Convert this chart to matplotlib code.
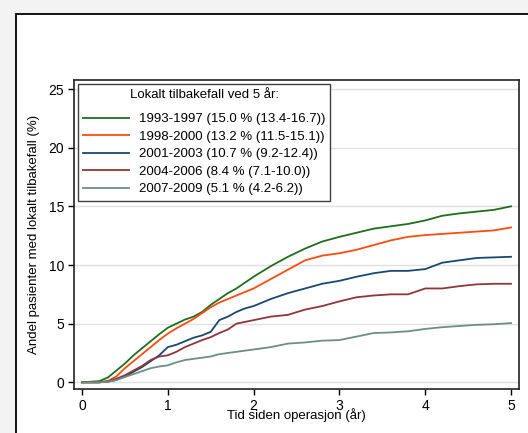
import numpy as np
import matplotlib.pyplot as plt
from matplotlib.patches import Rectangle

# -------------------------------------------
# Data (cumulative local recurrence, %)

tid = [0, 0.2, 0.3, 0.4, 0.5, 0.6, 0.7, 0.8, 0.9, 1.0, 1.1, 1.2, 1.3, 1.4, 1.5, 1.6, 1.7, 1.8,
       1.9, 2.0, 2.2, 2.4, 2.6, 2.8, 3.0, 3.2, 3.4, 3.6, 3.8, 4.0, 4.2, 4.4, 4.6, 4.8, 5.0]

p_1993_1997 = [0, 0.1, 0.4, 1.0, 1.6, 2.3, 2.9, 3.5, 4.1, 4.65, 5.0, 5.35, 5.6, 6.0, 6.6, 7.1, 7.6, 8.0,
               8.5, 9.0, 9.9, 10.7, 11.4, 12.0, 12.4, 12.75, 13.1, 13.3, 13.5, 13.8, 14.2, 14.4, 14.55, 14.7, 15.0]
p_1998_2000 = [0, 0, 0.1, 0.5, 1.2, 1.8, 2.4, 3.0, 3.6, 4.15, 4.6, 5.0, 5.4, 5.9, 6.4, 6.8, 7.1, 7.4,
               7.7, 8.0, 8.8, 9.6, 10.4, 10.8, 11.0, 11.3, 11.7, 12.1, 12.4, 12.55, 12.65, 12.75, 12.85, 12.95, 13.2]
p_2001_2003 = [0, 0, 0.05, 0.2, 0.5, 0.9, 1.3, 1.8, 2.3, 3.0, 3.2, 3.5, 3.8, 4.0, 4.3, 5.3, 5.6, 6.0,
               6.3, 6.5, 7.1, 7.6, 8.0, 8.4, 8.65, 9.0, 9.3, 9.5, 9.5, 9.65, 10.2, 10.4, 10.6, 10.65, 10.7]
p_2004_2006 = [0, 0, 0.1, 0.3, 0.6, 1.0, 1.4, 1.9, 2.2, 2.3, 2.6, 3.0, 3.3, 3.6, 3.85, 4.2, 4.5, 5.0,
               5.15, 5.3, 5.6, 5.75, 6.2, 6.5, 6.9, 7.25, 7.4, 7.5, 7.5, 8.0, 8.0, 8.2, 8.35, 8.4, 8.4]
p_2007_2009 = [0, 0, 0.05, 0.2, 0.45, 0.7, 0.95, 1.2, 1.35, 1.45, 1.7, 1.9, 2.0, 2.1, 2.2, 2.4, 2.5, 2.6,
               2.7, 2.8, 3.0, 3.3, 3.4, 3.55, 3.6, 3.9, 4.2, 4.25, 4.35, 4.55, 4.7, 4.8, 4.9, 4.95, 5.05]

etiketter = ["1993-1997 (15.0 % (13.4-16.7))",
             "1998-2000 (13.2 % (11.5-15.1))",
             "2001-2003 (10.7 % (9.2-12.4))",
             "2004-2006 (8.4 % (7.1-10.0))",
             "2007-2009 (5.1 % (4.2-6.2))"]
serier = [p_1993_1997, p_1998_2000, p_2001_2003, p_2004_2006, p_2007_2009]
farger = ["#1e6e1e", "#ff4a10", "#1a476f", "#90353b", "#6e8e84"]

# -------------------------------------------

plt.rcParams['font.family'] = ['Liberation Sans', 'DejaVu Sans']

fig = plt.figure(figsize=(5.28, 4.33), dpi=100, facecolor="#f2f3f2")

# white panel with black frame (behind the axes)
panel = Rectangle((16 / 528, -0.1), 1.2, 1 - 14 / 433 + 0.1, transform=fig.transFigure,
                  facecolor="white", edgecolor="black", linewidth=1.3, zorder=-10)
fig.patches.append(panel)

ax = fig.add_axes([74 / 528, 1 - 389 / 433, (519 - 74) / 528, (389 - 80) / 433])
ax.set_facecolor("white")

for verdier, farge, etikett in zip(serier, farger, etiketter):
    ax.plot(tid, verdier, color=farge, linewidth=1.3, label=etikett)

ax.set_xlim(-0.093, 5.093)
ax.set_ylim(-0.57, 25.77)
ax.set_xticks([0, 1, 2, 3, 4, 5])
ax.set_yticks([0, 5, 10, 15, 20, 25])
ax.yaxis.grid(True, color="#e0e0e0", linewidth=1)
ax.set_axisbelow(True)
ax.tick_params(axis="both", labelsize=10, length=4, width=1, color="black", pad=3)

for s in ax.spines.values():
    s.set_color("#222222")
    s.set_linewidth(1.2)

ax.set_xlabel("Tid siden operasjon (år)", fontsize=9.5, labelpad=-3)
ax.set_ylabel("Andel pasienter med lokalt tilbakefall (%)", fontsize=9.5, labelpad=6)

leg = ax.legend(loc="upper left", title="Lokalt tilbakefall ved 5 år:", fontsize=9.5, title_fontsize=9.5,
                frameon=True, fancybox=False, framealpha=1, edgecolor="#404040", borderaxespad=0.3,
                handlelength=3.5, handletextpad=0.7, labelspacing=0.4, borderpad=0.4)
leg.get_frame().set_linewidth(1.0)
# a bit more room between legend title and entries
leg._legend_box.sep = 8.5

plt.savefig("out.png", dpi=100, facecolor=fig.get_facecolor())
